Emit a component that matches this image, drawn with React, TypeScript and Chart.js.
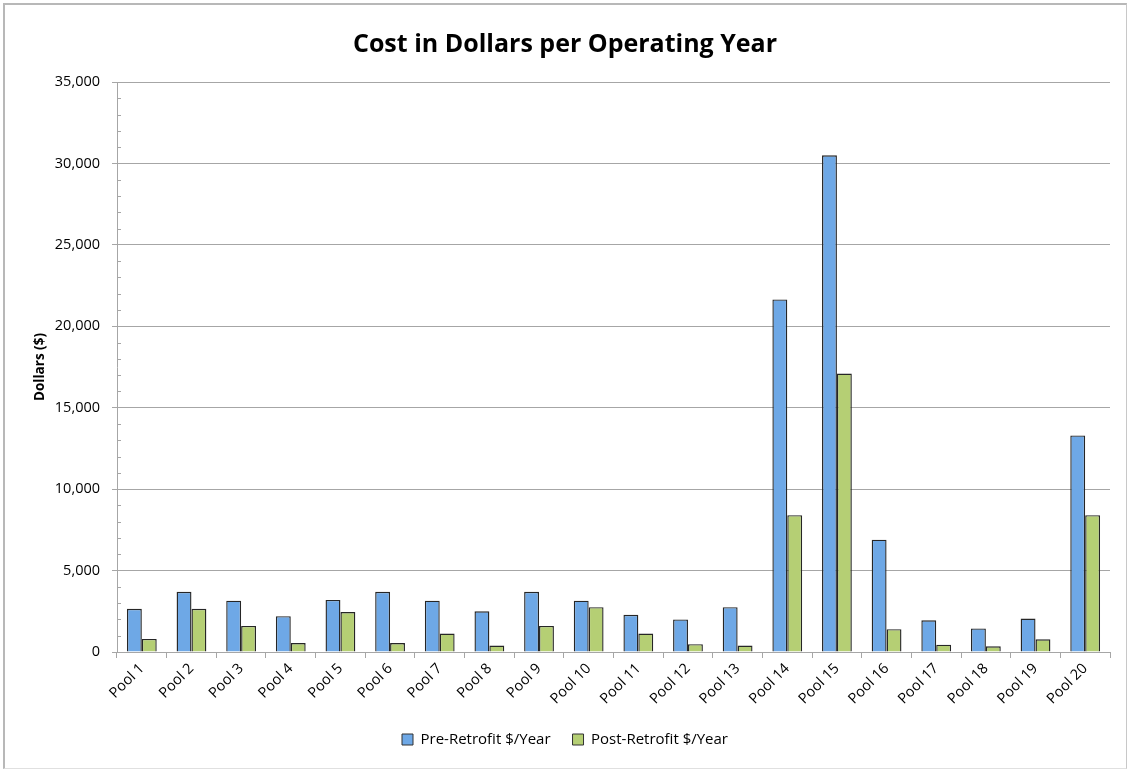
import React, { useEffect, useRef } from "react";
import { Chart, registerables } from "chart.js";

Chart.register(...registerables);

const categories = [
  "Pool 1", "Pool 2", "Pool 3", "Pool 4", "Pool 5", "Pool 6", "Pool 7", "Pool 8", "Pool 9", "Pool 10",
  "Pool 11", "Pool 12", "Pool 13", "Pool 14", "Pool 15", "Pool 16", "Pool 17", "Pool 18", "Pool 19", "Pool 20",
];
const preRetrofit = [2650, 3700, 3150, 2200, 3200, 3700, 3150, 2500, 3700, 3150, 2280, 2000, 2750, 21650, 30500, 6900, 1950, 1450, 2050, 13300];
const postRetrofit = [800, 2650, 1600, 550, 2450, 550, 1130, 400, 1600, 2750, 1130, 480, 400, 8400, 17100, 1400, 450, 350, 780, 8400];
const seriesNames = ["Pre-Retrofit $/Year", "Post-Retrofit $/Year"];
const chartTitle = "Cost in Dollars per Operating Year";
const yAxisTitle = "Dollars ($)";
const yMin = 0;
const yMax = 35000;
const yMajorStep = 5000;
const yMinorStep = 1000;

const FONT = "'Open Sans', 'DejaVu Sans', sans-serif";

const minorTicksPlugin = {
  id: "minorTicks",
  afterDraw(chart: any) {
    const y = chart.scales.y;
    if (!y) return;
    const ctx = chart.ctx;
    const x0 = y.right;
    ctx.save();
    ctx.strokeStyle = "#a6a6a6";
    ctx.lineWidth = 1;
    for (let v = yMin; v <= yMax; v += yMinorStep) {
      if (v % yMajorStep === 0) continue;
      const py = Math.round(y.getPixelForValue(v)) + 0.5;
      ctx.beginPath();
      ctx.moveTo(x0, py);
      ctx.lineTo(x0 + 4, py);
      ctx.stroke();
    }
    ctx.restore();
  },
};

export default function App() {
  const canvasRef = useRef<HTMLCanvasElement | null>(null);

  useEffect(() => {
    document.body.style.margin = "0";
    const canvas = canvasRef.current;
    if (!canvas) return;
    const chart = new Chart(canvas, {
      type: "bar",
      data: {
        labels: categories,
        datasets: [
          {
            label: seriesNames[0],
            data: preRetrofit,
            backgroundColor: "#6ea8e6",
            borderColor: "#262626",
            borderWidth: 1.4,
            categoryPercentage: 0.6,
            barPercentage: 1.0,
          },
          {
            label: seriesNames[1],
            data: postRetrofit,
            backgroundColor: "#b5cf74",
            borderColor: "#262626",
            borderWidth: 1.4,
            categoryPercentage: 0.6,
            barPercentage: 1.0,
          },
        ],
      },
      options: {
        responsive: false,
        animation: false,
        layout: { padding: { left: 20, right: 20, top: 0, bottom: 14 } },
        plugins: {
          title: {
            display: true,
            text: chartTitle,
            color: "#000",
            font: { family: FONT, size: 25, weight: "bold" },
            padding: { top: 30, bottom: 22 },
          },
          legend: {
            display: true,
            position: "bottom",
            labels: {
              color: "#000",
              font: { family: FONT, size: 15 },
              boxWidth: 11,
              boxHeight: 11,
              padding: 22,
              generateLabels(chart: any) {
                return chart.data.datasets.map((ds: any, i: number) => ({
                  text: ds.label,
                  fillStyle: ds.backgroundColor,
                  strokeStyle: "#333",
                  lineWidth: 1,
                  datasetIndex: i,
                  hidden: false,
                  fontColor: "#000",
                }));
              },
            },
          },
          tooltip: { enabled: false },
        },
        scales: {
          x: {
            offset: true,
            grid: {
              display: true,
              offset: true,
              drawOnChartArea: false,
              drawTicks: true,
              tickLength: 6,
              color: "#a6a6a6",
            },
            border: { color: "#a6a6a6", width: 1 },
            ticks: {
              color: "#000",
              font: { family: FONT, size: 14.5 },
              minRotation: 45,
              maxRotation: 45,
              autoSkip: false,
              padding: 2,
            },
            afterFit(scale: any) {
              scale.height = 58;
            },
          },
          y: {
            min: yMin,
            max: yMax,
            grid: {
              color: "#a6a6a6",
              drawTicks: true,
              tickLength: 5,
            },
            border: { color: "#a6a6a6", width: 1 },
            ticks: {
              stepSize: yMajorStep,
              color: "#000",
              font: { family: FONT, size: 14.5 },
              padding: 12,
              callback: (v: any) => Number(v).toLocaleString("en-US"),
            },
            title: {
              display: true,
              text: yAxisTitle,
              color: "#000",
              font: { family: FONT, size: 13.5, weight: "bold" },
              padding: { top: 12, bottom: 0 },
            },
            afterFit(scale: any) {
              scale.width = 97;
            },
          },
        },
      },
      plugins: [minorTicksPlugin],
    });
    return () => chart.destroy();
  }, []);

  return (
    <div style={{ position: "relative", width: 1130, height: 771, background: "#fff" }}>
      <canvas ref={canvasRef} width={1130} height={771} style={{ display: "block" }} />
      <div
        style={{
          position: "absolute",
          left: 3,
          top: 3,
          width: 1121,
          height: 763,
          borderLeft: "2px solid #b8b8b8",
          borderTop: "2px solid #b8b8b8",
          borderRight: "1px solid #c8c8c8",
          borderBottom: "1px solid #e0e0e0",
          pointerEvents: "none",
        }}
      />
    </div>
  );
}
